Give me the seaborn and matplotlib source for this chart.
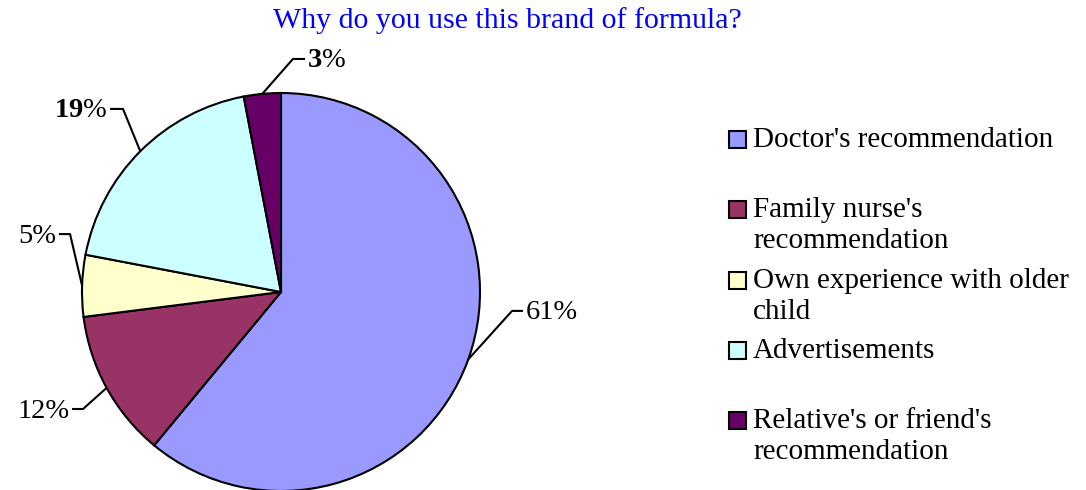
import matplotlib
matplotlib.use("Agg")
import matplotlib.pyplot as plt
import seaborn as sns
import numpy as np
from matplotlib.patches import Rectangle

# Survey answers and their shares (percent)
categories = [
    "Doctor's recommendation",
    "Family nurse's\nrecommendation",
    "Own experience with older\nchild",
    "Advertisements",
    "Relative's or friend's\nrecommendation",
]
shares = [61, 12, 5, 19, 3]
bold_numbers = [False, False, False, True, True]
title = "Why do you use this brand of formula?"

colors = ["#9999FF", "#993366", "#FFFFCC", "#CCFFFF", "#660066"]

sns.set_style("white")
plt.rcParams["font.family"] = ["Liberation Serif", "DejaVu Serif"]
plt.rcParams["mathtext.fontset"] = "custom"
plt.rcParams["mathtext.rm"] = "Liberation Serif"
plt.rcParams["mathtext.bf"] = "Liberation Serif:bold"

W, H = 1086, 490
fig = plt.figure(figsize=(W / 100, H / 100), dpi=100)
fig.patch.set_facecolor("white")

# Pie axes: square, radius 1 in data units
ax = fig.add_axes([82 / W, -1 / H, 398 / W, 398 / H])
wedges, _ = ax.pie(
    shares,
    colors=colors,
    startangle=90,
    counterclock=False,
    radius=1,
    wedgeprops=dict(edgecolor="black", linewidth=1.5),
)
ax.set_xlim(-1, 1)
ax.set_ylim(-1, 1)
ax.set_aspect("equal")
ax.axis("off")

# Leader-line elbows and ends (data units) for each slice label
leader_layout = [
    ((1.161, -0.095), (1.216, -0.095), "left"),
    ((-0.995, -0.588), (-1.05, -0.588), "right"),
    ((-1.060, 0.291), (-1.116, 0.291), "right"),
    ((-0.794, 0.920), (-0.859, 0.920), "right"),
    ((0.060, 1.171), (0.121, 1.171), "left"),
]

for w, share, bold, (elbow, end, side) in zip(wedges, shares, bold_numbers, leader_layout):
    mid = np.deg2rad((w.theta1 + w.theta2) / 2)
    anchor = (np.cos(mid), np.sin(mid))
    ax.plot([anchor[0], elbow[0], end[0]], [anchor[1], elbow[1], end[1]],
            color="black", lw=1.5, clip_on=False, solid_capstyle="butt")
    label = rf"$\mathbf{{{share}}}$%" if bold else f"{share}%"
    dx = 0.012 if side == "left" else -0.012
    ax.text(end[0] + dx, end[1] - 0.01, label, ha=side, va="center",
            fontsize=20.5, color="black", clip_on=False)

# Title
fig.text(507 / W, (H - 28) / H, title, ha="center", va="baseline",
         fontsize=21.5, color="#0000FF")

# Legend: colour box next to the first line of each entry
for i, (w, lab) in enumerate(zip(wedges, categories)):
    base = 147 + 70.3 * i
    box_cy = base - 7.5
    fig.patches.append(Rectangle(
        (729 / W, (H - box_cy - 8.5) / H), 17 / W, 17 / H,
        transform=fig.transFigure, facecolor=w.get_facecolor(),
        edgecolor="black", lw=1.5))
    fig.text(753 / W, (H - base + 19.9) / H, lab, ha="left", va="top",
             fontsize=21, linespacing=1.25, color="black")

fig.savefig("out.png", dpi=100)
